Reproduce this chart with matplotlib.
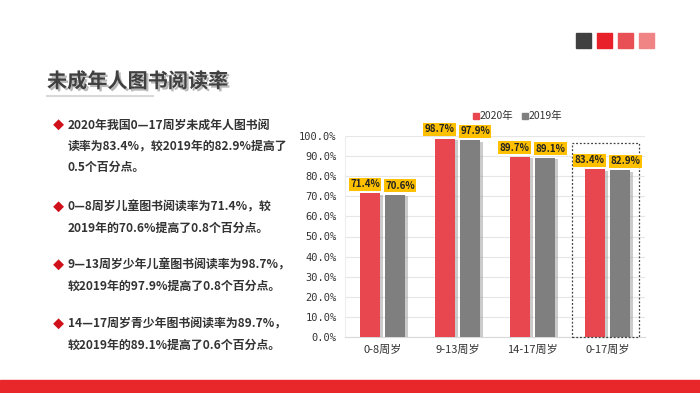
import matplotlib
matplotlib.use("Agg")
import matplotlib.pyplot as plt
import matplotlib.patheffects as pe
from matplotlib.patches import Rectangle
import numpy as np

plt.rcParams['font.family'] = ['Noto Sans CJK SC', 'DejaVu Sans']

# data
categories = ['0-8周岁', '9-13周岁', '14-17周岁', '0-17周岁']
rate_2020 = [0.714, 0.987, 0.897, 0.834]
rate_2019 = [0.706, 0.979, 0.891, 0.829]
series_names = ['2020年', '2019年']
yticks = [0.0, 0.1, 0.2, 0.3, 0.4, 0.5, 0.6, 0.7, 0.8, 0.9, 1.0]

paragraphs = [
    ['2020年我国0—17周岁未成年人图书阅', '读率为83.4%，较2019年的82.9%提高了', '0.5个百分点。'],
    ['0—8周岁儿童图书阅读率为71.4%，较', '2019年的70.6%提高了0.8个百分点。'],
    ['9—13周岁少年儿童图书阅读率为98.7%，', '较2019年的97.9%提高了0.8个百分点。'],
    ['14—17周岁青少年图书阅读率为89.7%，', '较2019年的89.1%提高了0.6个百分点。'],
]
para_y = [[125, 146, 167], [207, 228], [265, 286], [324, 345]]

RED = '#E8474F'
GRAY = '#7F7F7F'
W, H = 700, 393
NUM = ['DejaVu Sans Mono', 'Noto Sans CJK SC']

fig = plt.figure(figsize=(7, 3.93), dpi=100)
fig.patch.set_facecolor('white')

# top-right squares
for x0, c in zip([576, 597, 618, 639], ['#404040', '#E8202A', '#E85055', '#F08484']):
    fig.patches.append(Rectangle((x0 / W, 1 - 48 / H), 15 / W, 15 / H,
                                 transform=fig.transFigure, color=c))

# bottom band
fig.patches.append(Rectangle((0, 0), 1, 13 / H, transform=fig.transFigure,
                             color='#E8272B'))

# title
fig.text(47 / W, 1 - 81 / H, '未成年人图书阅读率', fontsize=14.5, fontweight='bold',
         color='#404040', va='center', ha='left',
         path_effects=[pe.SimplePatchShadow(offset=(1.5, -1.5), shadow_rgbFace='#888888', alpha=0.6),
                       pe.Normal()])
fig.add_artist(plt.Line2D([47 / W, 153 / W], [1 - 96 / H, 1 - 96 / H],
                          transform=fig.transFigure, color='#D9D9D9', lw=1.5))

# left text
for lines, ys in zip(paragraphs, para_y):
    fig.text(53 / W, 1 - ys[0] / H, '◆', fontsize=8, color='#D0101A', va='center', ha='left')
    for line, y in zip(lines, ys):
        fig.text(68 / W, 1 - y / H, line, fontsize=8.6, color='#333333',
                 va='center', ha='left', fontweight='bold')

# chart
ax = fig.add_axes([345 / W, 1 - 337 / H, 300 / W, 201 / H])
x = np.arange(len(categories))
bw = 0.27
shadow = [pe.SimplePatchShadow(offset=(2, -1), shadow_rgbFace='#999999', alpha=0.5), pe.Normal()]
b1 = ax.bar(x - 0.17, rate_2020, bw, color=RED, zorder=3, path_effects=shadow)
b2 = ax.bar(x + 0.17, rate_2019, bw, color=GRAY, zorder=3, path_effects=shadow)

# labels sit a little outward from their bars
for bars, vals, dx in [(b1, rate_2020, -3.5), (b2, rate_2019, 3.5)]:
    for b, v in zip(bars, vals):
        ax.annotate(f'{v * 100:.1f}%', (b.get_x() + b.get_width() / 2, v),
                    xytext=(dx, 3), textcoords='offset points', ha='center', va='bottom',
                    fontsize=7, fontweight='bold', color='#222222',
                    bbox=dict(boxstyle='square,pad=0.15', fc='#FFC000', ec='none'),
                    annotation_clip=False, zorder=5)

# highlight box around last group
ax.add_patch(Rectangle((2.52, 0), 0.9, 0.965, fill=False, ls=(0, (1.5, 1.5)),
                       ec='#404040', lw=0.9, zorder=4, clip_on=False))

ax.set_xlim(-0.5, 3.5)
ax.set_ylim(0, 1.0)
ax.set_yticks(yticks)
ax.set_yticklabels([f'{t * 100:.1f}%' for t in yticks], family=NUM, fontsize=7.5, color='#333333')
ax.set_xticks(x)
ax.set_xticklabels(categories, fontsize=8, color='#333333')
ax.tick_params(length=0, pad=6)
ax.grid(axis='y', color='#E6E6E6', lw=0.8, zorder=0)
for s in ['top', 'right']:
    ax.spines[s].set_visible(False)
ax.spines['left'].set_color('#EEEEEE')
ax.spines['bottom'].set_color('#D9D9D9')

# legend
for xl, c, name in [(473, RED, series_names[0]), (522, GRAY, series_names[1])]:
    fig.patches.append(Rectangle((xl / W, 1 - 119 / H), 6 / W, 6 / H,
                                 transform=fig.transFigure, color=c))
    fig.text((xl + 7) / W, 1 - 115.5 / H, name, fontsize=7.5, color='#333333',
             va='center', ha='left')

fig.savefig('out.png', dpi=100)
